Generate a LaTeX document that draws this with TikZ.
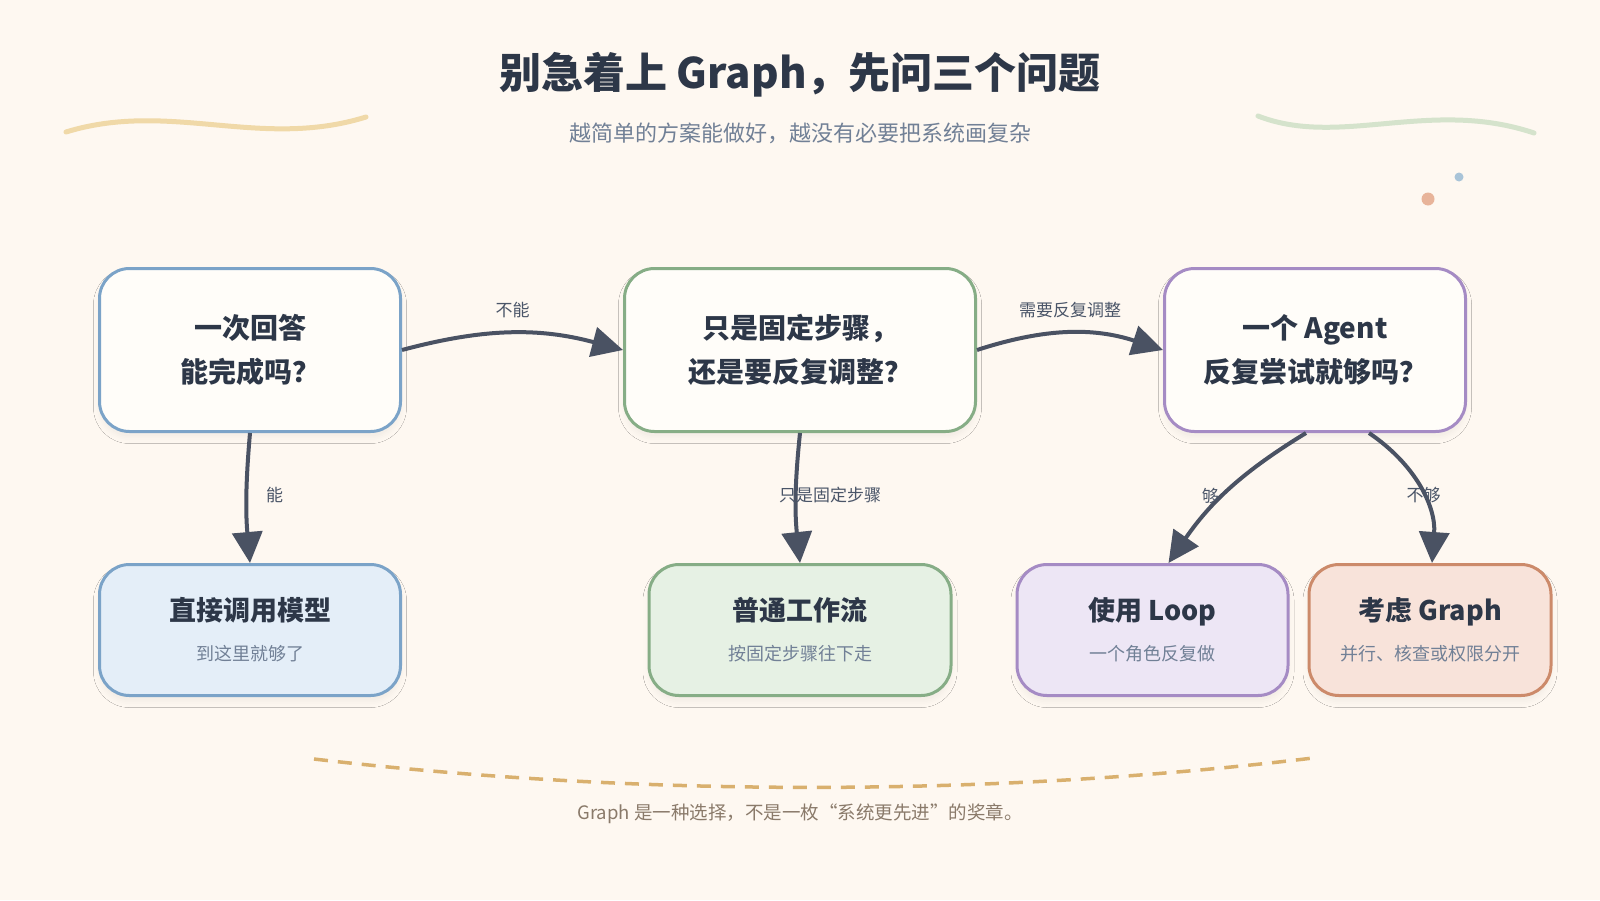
\documentclass[tikz,border=0pt]{standalone}
\usepackage{fontspec}
\setmainfont{Noto Sans CJK SC}
\usetikzlibrary{positioning,arrows.meta,shadows.blur}

\definecolor{paper}{HTML}{FEF8F1}
\definecolor{boxwhite}{HTML}{FFFDF9}
\definecolor{ink}{HTML}{2D3748}
\definecolor{subink}{HTML}{718096}
\definecolor{edgeink}{HTML}{4A5263}
\definecolor{labelink}{HTML}{4A5568}
\definecolor{blueline}{HTML}{7BA3C8}
\definecolor{bluefill}{HTML}{E4EEF8}
\definecolor{greenline}{HTML}{86AD86}
\definecolor{greenfill}{HTML}{E6F1E4}
\definecolor{purpleline}{HTML}{A58BC4}
\definecolor{purplefill}{HTML}{EDE6F5}
\definecolor{orangeline}{HTML}{CC8A6A}
\definecolor{orangefill}{HTML}{F8E3DA}
\definecolor{goldwave}{HTML}{F0D9A8}
\definecolor{greenwave}{HTML}{D5E3CC}
\definecolor{dashgold}{HTML}{D9B06E}
\definecolor{footink}{HTML}{8A7A6A}
\definecolor{dotblue}{HTML}{A9C4D8}
\definecolor{dotorange}{HTML}{E8B49A}

\newcommand{\boxtitle}{\fontsize{27}{40}\selectfont\bfseries}
\newcommand{\boxnote}{\fontsize{18}{40}\selectfont\color{subink}}

\begin{document}
\begin{tikzpicture}[
  x = 1pt,
  y = 1pt,
  card/.style = {
    draw,
    rectangle,
    rounded corners = 30pt,
    line width = 3pt,
    align = center,
    text = ink,
    blur shadow = {shadow xshift=0pt, shadow yshift=-6pt,
                   shadow opacity=5, shadow blur radius=6pt},
  },
  question/.style = {
    card,
    fill = boxwhite,
    minimum height = 163pt,
    font = \fontsize{28}{44}\selectfont\bfseries,
  },
  answer/.style = {
    card,
    minimum height = 131pt,
    font = \fontsize{18}{40}\selectfont,
  },
  flow/.style = {
    draw = edgeink,
    line width = 4pt,
    -{Triangle[length=31pt,width=30pt]},
  },
  elabel/.style = {
    text = labelink,
    inner sep = 1pt,
    font = \fontsize{17}{20}\selectfont,
  },
]

  % page
  \fill[paper] (0,0) rectangle (1600,-900);
  \useasboundingbox (0,0) rectangle (1600,-900);

  % heading
  \node[text=ink] (title) at (800,-75)
    {\fontsize{42}{50}\selectfont\bfseries 别急着上 Graph，先问三个问题};
  \node[text=subink] (subtitle) at (800,-133)
    {\fontsize{22}{26}\selectfont 越简单的方案能做好，越没有必要把系统画复杂};

  \draw[goldwave, line width=5pt, line cap=round]
    (66,-132) .. controls (170,-100) and (260,-150) .. (366,-117);
  \draw[greenwave, line width=5pt, line cap=round]
    (1258,-116) .. controls (1340,-148) and (1430,-98) .. (1534,-133);
  \fill[dotblue] (1459,-177) circle (4.5);
  \fill[dotorange] (1428,-199) circle (6.5);

  % questions
  \node[question, draw=blueline, minimum width=301pt] (q1) at (250,-350)
    {一次回答\\能完成吗？};
  \node[question, draw=greenline, minimum width=351pt] (q2) [right=221pt of q1]
    {只是固定步骤，\\还是要反复调整？};
  \node[question, draw=purpleline, minimum width=301pt] (q3) [right=186pt of q2]
    {一个 Agent\\反复尝试就够吗？};

  % answers
  \node[answer, draw=blueline, fill=bluefill, minimum width=301pt] (r1) [below=130pt of q1]
    {{\boxtitle 直接调用模型}\\{\boxnote 到这里就够了}};
  \node[answer, draw=greenline, fill=greenfill, minimum width=302pt] (r2) [below=130pt of q2]
    {{\boxtitle 普通工作流}\\{\boxnote 按固定步骤往下走}};
  \node[answer, draw=purpleline, fill=purplefill, minimum width=271pt] (r3) [right=63pt of r2]
    {{\boxtitle 使用 Loop}\\{\boxnote 一个角色反复做}};
  \node[answer, draw=orangeline, fill=orangefill, minimum width=242pt] (r4) [right=18pt of r3]
    {{\boxtitle 考虑 Graph}\\{\boxnote 并行、核查或权限分开}};

  % connectors
  \draw[flow] (q1.east) to[bend left=15]
    node[elabel, yshift=23pt] (l1) {不能} (q2.west);
  \draw[flow] (q2.east) to[bend left=18]
    node[elabel, yshift=23pt] (l2) {需要反复调整} (q3.west);
  \draw[flow] (q1.south) to[bend right=5]
    node[elabel, xshift=28pt, yshift=3pt] (l3) {能} (r1.north);
  \draw[flow] (q2.south) to[bend right=6]
    node[elabel, xshift=34pt, yshift=3pt] (l4) {只是固定步骤} (r2.north -| q2.south);
  \draw[flow] ([xshift=-9pt]q3.south) to[bend right=12]
    node[elabel, xshift=-19pt, yshift=-6pt] (l5) {够} ([xshift=16pt]r3.north);
  \draw[flow] ([xshift=54pt]q3.south) to[bend left=30]
    node[elabel, xshift=4pt, yshift=-6pt] (l6) {不够} ([xshift=2pt]r4.north);

  % footer
  \draw[dashgold, line width=3.5pt, dash pattern=on 14pt off 10pt]
    (314,-759) .. controls (640,-797) and (990,-797) .. (1313,-758);
  \node[text=footink] (foot) at (800,-814)
    {\fontsize{18.5}{22}\selectfont Graph 是一种选择，不是一枚“系统更先进”的奖章。};
\end{tikzpicture}
\end{document}
